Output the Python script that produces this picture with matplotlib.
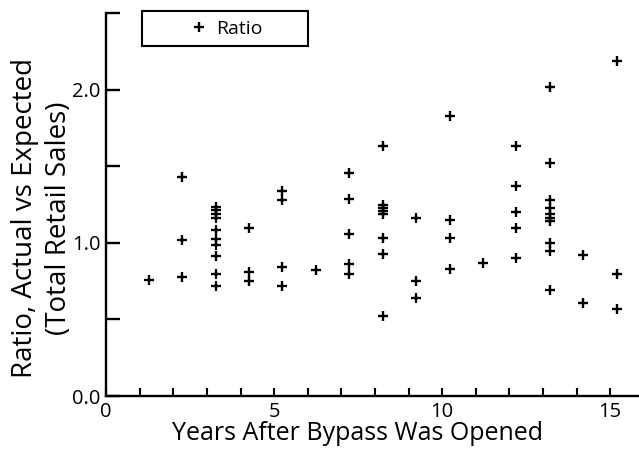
import matplotlib
matplotlib.use("Agg")
import matplotlib.pyplot as plt
from matplotlib.patches import Rectangle

# Data (x = years after bypass opened, y = ratio)
x_col1 = [1.27]
y_col1 = [0.76]
x_col2 = [2.26] * 3
y_col2 = [1.43, 1.02, 0.78]
x_col3 = [3.26] * 10
y_col3 = [1.234, 1.213, 1.186, 1.162, 1.087, 1.028, 0.989, 0.915, 0.795, 0.717]
x_col4 = [4.25] * 3
y_col4 = [1.10, 0.81, 0.75]
x_col5 = [5.24] * 4
y_col5 = [1.34, 1.28, 0.84, 0.72]
x_col6 = [6.24]
y_col6 = [0.82]
x_col7 = [7.24] * 5
y_col7 = [1.46, 1.29, 1.06, 0.86, 0.80]
x_col8 = [8.25] * 8
y_col8 = [1.63, 1.25, 1.23, 1.21, 1.19, 1.03, 0.93, 0.52]
x_col9 = [9.22] * 3
y_col9 = [1.16, 0.75, 0.64]
x_col10 = [10.22] * 4
y_col10 = [1.83, 1.15, 1.03, 0.83]
x_col11 = [11.21]
y_col11 = [0.87]
x_col12 = [12.2] * 5
y_col12 = [1.63, 1.37, 1.20, 1.10, 0.90]
x_col13 = [13.2] * 10
y_col13 = [2.02, 1.52, 1.28, 1.23, 1.19, 1.16, 1.14, 1.00, 0.95, 0.69]
x_col14 = [14.2] * 2
y_col14 = [0.92, 0.61]
x_col15 = [15.2] * 3
y_col15 = [2.19, 0.80, 0.57]

years = (x_col1 + x_col2 + x_col3 + x_col4 + x_col5 + x_col6 + x_col7 + x_col8
         + x_col9 + x_col10 + x_col11 + x_col12 + x_col13 + x_col14 + x_col15)
ratio = (y_col1 + y_col2 + y_col3 + y_col4 + y_col5 + y_col6 + y_col7 + y_col8
         + y_col9 + y_col10 + y_col11 + y_col12 + y_col13 + y_col14 + y_col15)

x_ticks = list(range(0, 16))
x_ticklabels = [str(t) if t % 5 == 0 else "" for t in x_ticks]
y_ticks = [0.0, 0.5, 1.0, 1.5, 2.0, 2.5]
y_ticklabels = ["0.0", "", "1.0", "", "2.0", ""]

plt.rcParams['font.family'] = ['Open Sans', 'DejaVu Sans']

W, H = 639, 458
fig = plt.figure(figsize=(W / 100, H / 100), dpi=100)
ax = fig.add_axes([106.2 / W, 1 - 396 / H, 1 - 106.2 / W, (396 - 13.3) / H])

ax.plot(years, ratio, linestyle='none', marker='+', markersize=7.5,
        markeredgewidth=1.7, color='black', label='Ratio', clip_on=False)

ax.set_xlim(0, (W - 106.2) / 33.6)
ax.set_ylim(0, 2.5)
ax.set_xticks(x_ticks)
ax.set_xticklabels(x_ticklabels)
ax.set_yticks(y_ticks)
ax.set_yticklabels(y_ticklabels)

for s in ['top', 'right']:
    ax.spines[s].set_visible(False)
for s in ['left', 'bottom']:
    ax.spines[s].set_linewidth(1.7)

ax.tick_params(axis='x', direction='in', length=6, width=1.5, labelsize=14.5, pad=4)
ax.tick_params(axis='y', direction='in', length=10, width=1.7, labelsize=14.5, pad=4)

ax.set_xlabel('Years After Bypass Was Opened', fontsize=18)
ax.xaxis.set_label_coords(0.471, -0.066)
ax.set_ylabel('Ratio, Actual vs Expected\n(Total Retail Sales)', fontsize=20,
              linespacing=1.3)
ax.yaxis.set_label_coords(-0.0615, 0.465)

# legend frame box
fig.patches.append(Rectangle((142 / W, 1 - 46 / H), 166 / W, 35 / H,
                             transform=fig.transFigure, fill=False,
                             edgecolor='black', linewidth=1.5))
leg = ax.legend(loc='center', bbox_to_anchor=(227 / W, 1 - 28.5 / H),
                bbox_transform=fig.transFigure, frameon=False, fontsize=14,
                handlelength=0.8, handletextpad=0.45, borderpad=0, borderaxespad=0)

fig.savefig('out.png', dpi=100)
